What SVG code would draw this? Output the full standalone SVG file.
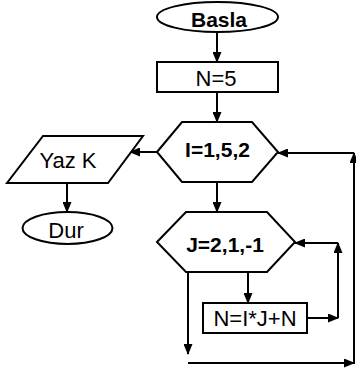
<svg xmlns="http://www.w3.org/2000/svg" width="356" height="372" viewBox="0 0 356 372">
<style>
.s{fill:#fff;stroke:#000;stroke-width:2}
.c{fill:none;stroke:#000;stroke-width:2}
.t{font-family:"Liberation Sans",Arial,sans-serif;font-size:22px;fill:#000;text-anchor:middle}
.b{font-weight:bold;font-size:21px}
</style>
<defs>
<marker id="a" markerUnits="userSpaceOnUse" markerWidth="11" markerHeight="9" refX="10" refY="4.5" orient="auto">
<path d="M0,0 L11,4.5 L0,9 z" fill="#000"/>
</marker>
</defs>
<g id="connectors">
<line class="c" x1="217" y1="32" x2="217" y2="62" marker-end="url(#a)"/>
<line class="c" x1="217" y1="92" x2="217" y2="122" marker-end="url(#a)"/>
<line class="c" x1="157" y1="152" x2="130" y2="152" marker-end="url(#a)"/>
<line class="c" x1="67" y1="183" x2="67" y2="212" marker-end="url(#a)"/>
<line class="c" x1="217" y1="182" x2="217" y2="212" marker-end="url(#a)"/>
<line class="c" x1="248" y1="272" x2="248" y2="303" marker-end="url(#a)"/>
<line class="c" x1="307" y1="318" x2="338" y2="318" marker-end="url(#a)"/>
<line class="c" x1="338" y1="318" x2="338" y2="243" marker-end="url(#a)"/>
<line class="c" x1="338" y1="243" x2="295" y2="243" marker-end="url(#a)"/>
<line class="c" x1="188" y1="272" x2="188" y2="354" marker-end="url(#a)"/>
<line class="c" x1="188" y1="363" x2="354" y2="363" marker-end="url(#a)"/>
<line class="c" x1="354" y1="364" x2="354" y2="153" marker-end="url(#a)"/>
<line class="c" x1="354" y1="153" x2="278" y2="153" marker-end="url(#a)"/>
</g>
<g id="basla">
<ellipse class="s" cx="217.5" cy="17" rx="60.5" ry="15"/>
<text class="t b" x="219" y="26.5">Basla</text>
</g>
<g id="n5">
<rect class="s" x="157" y="62" width="121" height="30"/>
<text class="t" x="216" y="86">N=5</text>
</g>
<g id="loopI">
<polygon class="s" points="157,152 182,122 252,122 278,152 252,182 182,182"/>
<text class="t b" x="217.5" y="156.5">I=1,5,2</text>
</g>
<g id="yazk">
<polygon class="s" points="43,136 143,136 108,183 7,183"/>
<text class="t" x="68" y="168">Yaz K</text>
</g>
<g id="dur">
<ellipse class="s" cx="67.5" cy="228" rx="45" ry="16"/>
<text class="t" x="66" y="238">Dur</text>
</g>
<g id="loopJ">
<polygon class="s" points="157,242 186,212 267,212 295,242 267,272 186,272"/>
<text class="t b" x="225" y="251.5">J=2,1,-1</text>
</g>
<g id="assign">
<rect class="s" x="203" y="303" width="104" height="30"/>
<text class="t" x="255" y="326">N=I*J+N</text>
</g>
</svg>
